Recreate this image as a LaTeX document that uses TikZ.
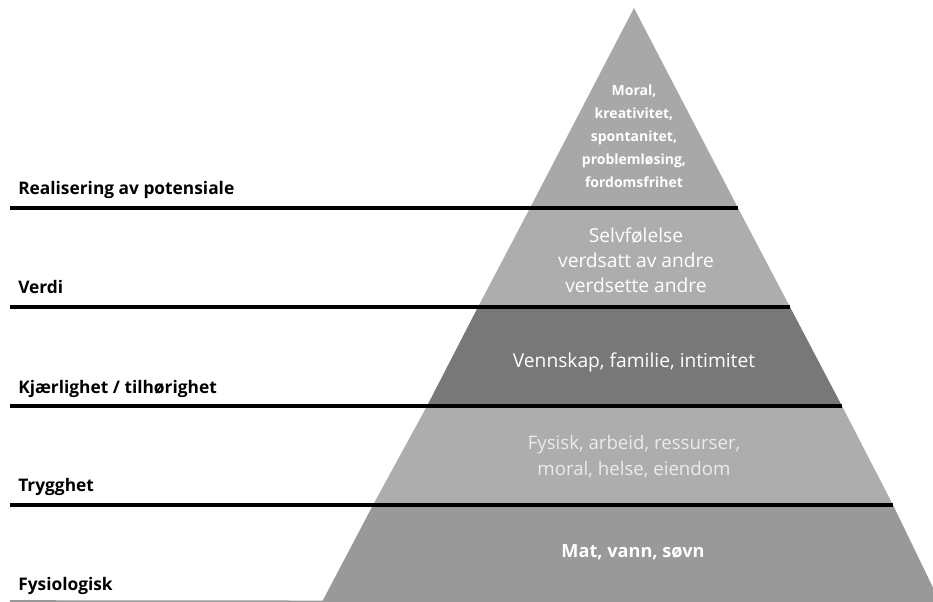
\documentclass[tikz,border=0pt]{standalone}
\usepackage{fontspec}
\setmainfont{Open Sans}
\definecolor{lag1}{gray}{0.66}
\definecolor{lag2}{gray}{0.68}
\definecolor{lag3}{gray}{0.47}
\definecolor{lag4}{gray}{0.68}
\definecolor{lag5}{gray}{0.60}
\begin{document}
\begin{tikzpicture}[x=0.75pt,y=-0.75pt]
% Stiler
\tikzset{nivaa/.style={anchor=base west,inner sep=0pt,font=\bfseries\fontsize{13}{15}\selectfont},
  behov/.style={align=center,inner sep=0pt,text=white,font=\fontsize{14.4}{19}\selectfont},
  skille/.style={line width=3pt,color=black}}
\clip (0,0) rectangle (933,602);

% Hjørner
\coordinate (top) at (634,8);
\coordinate (v1) at (530,208); \coordinate (h1) at (738,208);
\coordinate (v2) at (478,307); \coordinate (h2) at (790,307);
\coordinate (v3) at (427,406); \coordinate (h3) at (842,406);
\coordinate (v4) at (373,505); \coordinate (h4) at (893,505);
\coordinate (v5) at (322,602); \coordinate (h5) at (940,602);

% Lag
\fill[lag1] (top) -- (h1) -- (v1) -- cycle;
\fill[lag2] (v1) -- (h1) -- (h2) -- (v2) -- cycle;
\fill[lag3] (v2) -- (h2) -- (h3) -- (v3) -- cycle;
\fill[lag4] (v3) -- (h3) -- (h4) -- (v4) -- cycle;
\fill[lag5] (v4) -- (h4) -- (h5) -- (v5) -- cycle;

% Skillelinjer
\coordinate (a1) at (10,208);
\coordinate (a2) at (10,307);
\coordinate (a3) at (10,406);
\coordinate (a4) at (10,505);
\coordinate (a5) at (10,601);
\draw[skille] (a1) -- (h1) (a2) -- (h2) (a3) -- (h3) (a4) -- (h4);
\draw[line width=1.2pt,color=black!40] (a5) -- (h5);

% Nivåer
\node[nivaa] (realisering) at (18,195) {Realisering av potensiale};
\node[nivaa] (verdi) at (18,294) {Verdi};
\node[nivaa] (kjaerlighet) at (18,394) {Kjærlighet / tilhørighet};
\node[nivaa] (trygghet) at (18,492) {Trygghet};
\node[nivaa] (fysiologisk) at (18,590) {Fysiologisk};

% Behov
\node[behov,font=\bfseries\fontsize{10.5}{17.2}\selectfont] (moral) at (634,136) {Moral,\\kreativitet,\\spontanitet,\\problemløsing,\\fordomsfrihet};
\node[behov,font=\fontsize{14.4}{18.8}\selectfont] (selvfolelse) at (636,260) {Selvfølelse\\verdsatt av andre\\verdsette andre};
\node[behov] (vennskap) at (634,362) {Vennskap, familie, intimitet};
\node[behov,font=\fontsize{14}{19.5}\selectfont,text=black!8] (fysisk) at (634,457) {Fysisk, arbeid, ressurser,\\moral, helse, eiendom};
\node[behov,font=\bfseries\fontsize{13.6}{16}\selectfont] (mat) at (633,552) {Mat, vann, søvn};
\end{tikzpicture}
\end{document}
